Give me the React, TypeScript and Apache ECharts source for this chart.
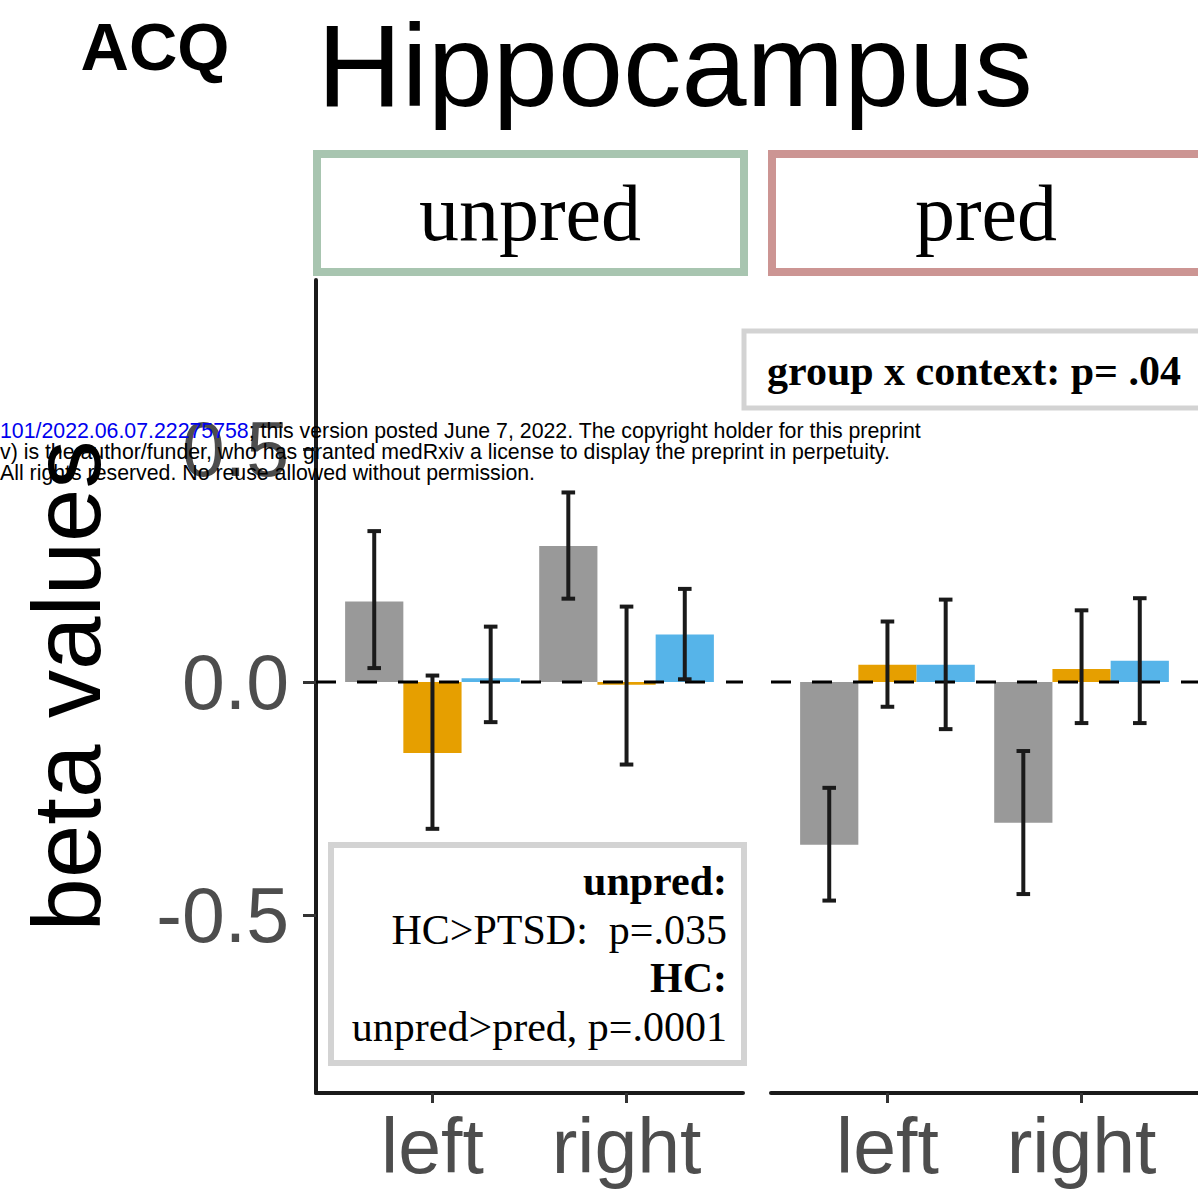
import React, { useEffect, useRef } from 'react';
import * as echarts from 'echarts';

// ---- data ----
const categories = ['left', 'right'];
const panels = ['unpred', 'pred'];
const groupNames = ['group 1', 'group 2', 'group 3'];
const groupColors = ['#999999', '#E69F00', '#56B4E9'];

// unpred panel: means, lower and upper error-bar ends, per group (left, right)
const unpredMean = [[0.173, 0.292], [-0.152, -0.006], [0.008, 0.102]];
const unpredLow = [[0.030, 0.179], [-0.315, -0.177], [-0.086, 0.006]];
const unpredHigh = [[0.324, 0.407], [0.014, 0.162], [0.119, 0.200]];

// pred panel
const predMean = [[-0.349, -0.302], [0.037, 0.028], [0.037, 0.046]];
const predLow = [[-0.469, -0.455], [-0.053, -0.088], [-0.101, -0.088]];
const predHigh = [[-0.227, -0.148], [0.130, 0.154], [0.177, 0.180]];

const yTicks = [-0.5, 0, 0.5];
const yMin = -0.882;
const yMax = 0.863;

const title = 'Hippocampus';
const panelLabel = 'ACQ';
const yName = 'beta values';
const annotTop = 'group x context: p= .04';
const annotBottom = [
  { text: 'unpred:', bold: true },
  { text: 'HC>PTSD:  p=.035', bold: false },
  { text: 'HC:', bold: true },
  { text: 'unpred>pred, p=.0001', bold: false },
];
const watermark1Link = '101/2022.06.07.22275758';
const watermark1Rest = '; this version posted June 7, 2022. The copyright holder for this preprint';
const watermark2 = 'v) is the author/funder, who has granted medRxiv a license to display the preprint in perpetuity.';
const watermark3 = 'All rights reserved. No reuse allowed without permission.';

const SANS = '"Liberation Sans", Arial, Helvetica, sans-serif';
const SERIF = '"Liberation Serif", "Times New Roman", Times, serif';

const X_START = 0.6; // position of first category on the value x axis (ggplot-like expansion)
const X_MAX = 2.2;
const BAR_W = 0.3;
const CAP_W = 0.07;

function buildOption() {
  const panelData = [
    { mean: unpredMean, low: unpredLow, high: unpredHigh },
    { mean: predMean, low: predLow, high: predHigh },
  ];
  const series: any[] = [];
  panelData.forEach((pd, pi) => {
    groupNames.forEach((gn, gi) => {
      const data = categories.map((_, ci) => [ci, pd.mean[gi][ci], pd.low[gi][ci], pd.high[gi][ci]]);
      const offset = (gi - 1) * BAR_W;
      series.push({
        type: 'custom',
        name: panels[pi] + ' ' + gn,
        xAxisIndex: pi,
        yAxisIndex: pi,
        z: 2,
        clip: false,
        encode: { x: 0, y: 1 },
        data,
        renderItem: (params: any, api: any) => {
          const ci = api.value(0);
          const v = api.value(1);
          const xc = X_START + ci + offset;
          const a = api.coord([xc - BAR_W / 2, v]);
          const b = api.coord([xc + BAR_W / 2, 0]);
          return {
            type: 'rect',
            shape: {
              x: Math.min(a[0], b[0]),
              y: Math.min(a[1], b[1]),
              width: Math.abs(b[0] - a[0]),
              height: Math.abs(b[1] - a[1]),
            },
            style: { fill: groupColors[gi] },
          };
        },
      });
      series.push({
        type: 'custom',
        name: panels[pi] + ' ' + gn + ' error',
        xAxisIndex: pi,
        yAxisIndex: pi,
        z: 5,
        clip: false,
        encode: { x: 0, y: [2, 3] },
        data,
        renderItem: (params: any, api: any) => {
          const ci = api.value(0);
          const lo = api.value(2);
          const hi = api.value(3);
          const xc = X_START + ci + offset;
          const pLo = api.coord([xc, lo]);
          const pHi = api.coord([xc, hi]);
          const capL = api.coord([xc - CAP_W / 2, lo]);
          const capR = api.coord([xc + CAP_W / 2, hi]);
          const st = { stroke: '#1a1a1a', lineWidth: 4 };
          return {
            type: 'group',
            children: [
              { type: 'line', shape: { x1: pLo[0], y1: pLo[1], x2: pHi[0], y2: pHi[1] }, style: st },
              { type: 'line', shape: { x1: capL[0], y1: pLo[1], x2: capR[0], y2: pLo[1] }, style: st },
              { type: 'line', shape: { x1: capL[0], y1: pHi[1], x2: capR[0], y2: pHi[1] }, style: st },
            ],
          };
        },
      });
    });
    series.push({
      type: 'line',
      name: panels[pi] + ' zero',
      xAxisIndex: pi,
      yAxisIndex: pi,
      z: 4,
      symbol: 'none',
      silent: true,
      data: [[0, 0], [X_MAX, 0]],
      lineStyle: { color: '#000', width: 3, type: [20, 21] },
    });
  });

  const xAxisCommon = (gi: number) => ({
    type: 'value',
    gridIndex: gi,
    min: 0,
    max: X_MAX,
    splitLine: { show: false },
    axisLine: { show: true, onZero: false, lineStyle: { color: '#1a1a1a', width: 4 } },
    axisTick: {
      show: true,
      length: 10,
      customValues: categories.map((_, i) => X_START + i),
      lineStyle: { color: '#333', width: 3 },
    },
    axisLabel: {
      show: true,
      customValues: categories.map((_, i) => X_START + i),
      formatter: (v: number) => categories[Math.round(v - X_START)] ?? '',
      fontFamily: SANS,
      fontSize: 77,
      color: '#4D4D4D',
      margin: 14,
    },
  });

  const WM = `21.3px ${SANS}`;
  const graphic: any[] = [
    {
      type: 'text', x: 155, y: 46,
      style: { text: panelLabel, font: `bold 67px ${SANS}`, fill: '#000', align: 'center', verticalAlign: 'middle' },
    },
    {
      type: 'text', x: 675, y: 65,
      style: { text: title, font: `117px ${SANS}`, fill: '#000', align: 'center', verticalAlign: 'middle' },
    },
    {
      type: 'rect', shape: { x: 317, y: 154, width: 427, height: 118 },
      style: { fill: '#fff', stroke: '#A8C5B0', lineWidth: 8 },
    },
    {
      type: 'text', x: 530, y: 213,
      style: { text: panels[0], font: `80px ${SERIF}`, fill: '#000', align: 'center', verticalAlign: 'middle' },
    },
    {
      type: 'rect', shape: { x: 772, y: 154, width: 440, height: 118 },
      style: { fill: '#fff', stroke: '#CC9593', lineWidth: 8 },
    },
    {
      type: 'text', x: 986, y: 213,
      style: { text: panels[1], font: `80px ${SERIF}`, fill: '#000', align: 'center', verticalAlign: 'middle' },
    },
    {
      type: 'text', x: 66, y: 686, rotation: Math.PI / 2,
      style: { text: yName, font: `96px ${SANS}`, fill: '#000', align: 'center', verticalAlign: 'middle' },
    },
    {
      type: 'rect', z: 10, shape: { x: 744, y: 331, width: 470, height: 77 },
      style: { fill: '#fff', stroke: '#D3D3D3', lineWidth: 5 },
    },
    {
      type: 'text', z: 11, x: 974, y: 371,
      style: { text: annotTop, font: `bold 42px ${SERIF}`, fill: '#000', align: 'center', verticalAlign: 'middle' },
    },
    {
      type: 'rect', z: 10, shape: { x: 331, y: 845, width: 413, height: 218 },
      style: { fill: '#fff', stroke: '#D3D3D3', lineWidth: 6 },
    },
    ...annotBottom.map((l, i) => ({
      type: 'text', z: 11, x: 727, y: 881 + i * 48.5,
      style: {
        text: l.text,
        font: `${l.bold ? 'bold ' : ''}42px ${SERIF}`,
        fill: '#000', align: 'right', verticalAlign: 'middle',
      },
    })),
    {
      type: 'text', z: 50, x: 0, y: 431,
      style: {
        text: `{a|${watermark1Link}}{b|${watermark1Rest}}`,
        font: WM,
        align: 'left', verticalAlign: 'middle',
        rich: {
          a: { fill: '#0000EE', font: WM },
          b: { fill: '#000', font: WM },
        },
      },
    },
    {
      type: 'text', z: 50, x: 0, y: 452,
      style: { text: watermark2, font: WM, fill: '#000', align: 'left', verticalAlign: 'middle' },
    },
    {
      type: 'text', z: 50, x: 0, y: 473,
      style: { text: watermark3, font: WM, fill: '#000', align: 'left', verticalAlign: 'middle' },
    },
  ];

  return {
    animation: false,
    backgroundColor: '#fff',
    grid: [
      { left: 316, top: 280, width: 427, height: 813 },
      { left: 771, top: 280, width: 427, height: 813 },
    ],
    xAxis: [xAxisCommon(0), xAxisCommon(1)],
    yAxis: [
      {
        type: 'value',
        gridIndex: 0,
        min: yMin,
        max: yMax,
        splitLine: { show: false },
        axisLine: { show: true, onZero: false, lineStyle: { color: '#1a1a1a', width: 4 } },
        axisTick: { show: true, length: 13, customValues: yTicks, lineStyle: { color: '#333', width: 3 } },
        axisLabel: {
          show: true,
          customValues: yTicks,
          formatter: (v: number) => v.toFixed(1),
          fontFamily: SANS,
          fontSize: 77,
          color: '#4D4D4D',
          margin: 27,
        },
      },
      {
        type: 'value',
        gridIndex: 1,
        min: yMin,
        max: yMax,
        show: true,
        splitLine: { show: false },
        axisLine: { show: false },
        axisTick: { show: false },
        axisLabel: { show: false },
      },
    ],
    series,
    graphic,
  };
}

export default function App() {
  const ref = useRef<HTMLDivElement>(null);
  useEffect(() => {
    if (!ref.current) return;
    const chart = echarts.init(ref.current, undefined, { renderer: 'svg' });
    chart.setOption(buildOption() as any);
    return () => chart.dispose();
  }, []);
  return (
    <div
      ref={ref}
      style={{ position: 'fixed', left: 0, top: 0, width: 1198, height: 1198, background: '#fff' }}
    />
  );
}
